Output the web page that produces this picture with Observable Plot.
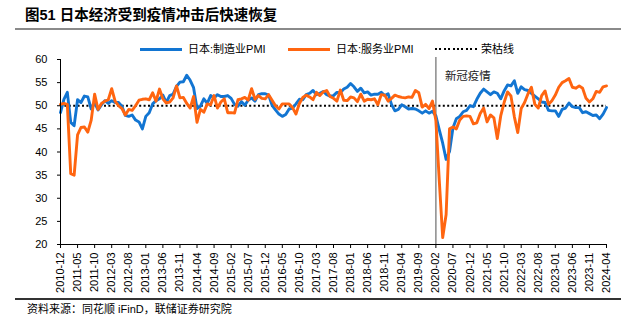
<!DOCTYPE html>
<html>
<head>
<meta charset="utf-8">
<script src="https://cdn.jsdelivr.net/npm/d3@7"></script>
<script src="https://cdn.jsdelivr.net/npm/@observablehq/plot@0.6"></script>
<style>
  html, body { margin: 0; padding: 0; background: #fff; }
  #root { position: relative; width: 631px; height: 326px; overflow: hidden; background: #fff;
          font-family: "Liberation Sans", Arial, "Noto Sans CJK SC", sans-serif; }
  .abs { position: absolute; white-space: nowrap; }
  #title { left: 25px; top: 7px; font-size: 14.5px; font-weight: bold; color: #000; line-height: 16px; }
  #rule-top { left: 15px; top: 28px; width: 606px; height: 2px; background: #8a8a8a; }
  .lg-text { font-size: 11px; line-height: 14px; color: #000; top: 42px; }
  .sw { top: 48px; height: 3px; width: 42px; }
  #plot { left: 0; top: 54px; }
  #rule-bot { left: 15px; top: 298px; width: 606px; height: 1.5px; background: #333; }
  #source { left: 27px; top: 302px; font-size: 11px; line-height: 14px; color: #000; }
</style>
</head>
<body>
<div id="root">
  <div id="title" class="abs">图51 日本经济受到疫情冲击后快速恢复</div>
  <div id="rule-top" class="abs"></div>
  <div id="legend"></div>
  <div id="plot" class="abs"></div>
  <div id="rule-bot" class="abs"></div>
  <div id="source" class="abs">资料来源：同花顺 iFinD，联储证券研究院</div>
</div>
<script>
// ---------- DATA ----------
const seriesNames = ["日本:制造业PMI", "日本:服务业PMI", "荣枯线"];
const seriesColors = ["#1275d2", "#ff6510", "#000000"];
const startMonth = "2010-12";
const endMonth = "2024-04";
const tickLabels = ["2010-12","2011-05","2011-10","2012-03","2012-08","2013-01","2013-06","2013-11",
  "2014-04","2014-09","2015-02","2015-07","2015-12","2016-05","2016-10","2017-03","2017-08",
  "2018-01","2018-06","2018-11","2019-04","2019-09","2020-02","2020-07","2020-12","2021-05",
  "2021-10","2022-03","2022-08","2023-01","2023-06","2023-11","2024-04"];
const yTicks = [20, 25, 30, 35, 40, 45, 50, 55, 60];
const threshold = 50;
const covidMonth = "2020-02";
const covidLabel = "新冠疫情";

// Japan manufacturing PMI, 2010-12 .. 2024-04
const mfgPMI = [48.5,
  51.4,52.9,46.4,45.7,51.3,50.7,52.1,51.9,49.3,50.6,49.1,50.2,
  51.1,50.5,51.1,50.7,50.7,49.9,47.9,47.7,48.0,46.9,46.5,45.0,
  47.7,48.5,50.4,51.1,51.5,52.3,50.7,52.2,52.5,54.2,55.1,55.2,
  56.6,55.5,53.9,49.4,49.9,51.5,50.5,52.2,51.7,52.4,52.0,52.0,
  52.2,51.6,50.3,49.9,50.9,50.1,51.2,51.7,51.0,52.4,52.6,52.6,
  52.3,50.1,49.1,48.2,47.7,48.1,49.3,49.5,50.4,51.4,51.3,52.4,
  52.7,53.3,52.4,52.7,53.1,52.4,52.1,52.2,52.9,52.8,53.6,54.0,
  54.8,54.1,53.1,53.8,52.8,53.0,52.3,52.5,52.5,52.9,52.2,52.6,
  50.3,48.9,49.2,50.2,49.8,49.3,49.4,49.3,48.9,48.4,48.9,48.4,
  48.8,47.8,44.8,41.9,38.4,40.1,45.2,47.2,47.7,48.7,49.0,50.0,
  49.8,51.4,52.7,53.6,53.0,52.4,53.0,52.7,51.5,53.2,54.5,54.3,
  55.4,52.7,54.1,53.5,53.3,52.7,52.1,51.5,50.8,50.7,49.0,48.9,
  48.9,47.7,49.2,49.5,50.6,49.8,49.6,49.6,48.5,48.7,48.3,47.9,
  48.0,47.2,48.2,49.6];

// Japan services PMI, 2010-12 .. 2024-04
const svcPMI = [50.3,
  50.5,50.3,35.3,35.0,43.7,45.3,45.4,44.3,46.9,52.5,49.2,50.5,
  51.0,51.3,53.7,51.0,50.0,49.4,48.0,49.2,49.0,50.0,51.2,51.4,
  51.5,51.3,52.8,51.0,53.6,51.5,50.6,50.8,51.7,54.3,51.7,51.8,
  50.5,49.5,52.0,46.4,49.2,48.6,50.4,50.2,52.2,49.5,50.8,51.5,
  48.5,48.5,48.4,51.3,51.5,51.8,51.2,53.7,51.4,52.2,51.6,51.5,
  52.4,51.2,50.0,49.3,50.4,50.4,50.4,49.6,48.2,50.5,51.8,52.3,
  51.9,51.3,52.9,52.2,53.0,53.3,52.0,51.6,51.0,53.4,51.2,51.1,
  51.9,51.7,50.9,52.5,51.0,51.4,51.3,51.5,50.2,52.4,52.3,51.0,
  51.6,52.3,52.0,51.8,51.7,51.9,51.8,53.3,52.8,49.7,50.3,49.4,
  51.0,46.8,33.8,21.5,26.5,45.0,45.4,45.0,46.9,47.7,47.8,47.7,
  46.1,46.3,48.3,49.5,46.5,48.0,47.4,42.9,47.8,50.7,53.0,52.1,
  47.6,44.2,49.4,50.7,52.6,54.0,50.3,49.5,52.2,53.2,50.3,51.1,
  52.3,54.0,55.0,55.4,55.9,54.0,53.8,54.3,53.8,51.6,50.8,51.5,
  53.1,52.9,54.1,54.3];

// ---------- BUILD ----------
const fmt = d3.utcFormat("%Y-%m");
const parse = d3.utcParse("%Y-%m");
const months = d3.utcMonth.range(parse(startMonth), d3.utcMonth.offset(parse(endMonth), 1)).map(fmt);
const table = months.map((m, i) => ({month: m, mfg: mfgPMI[i], svc: svcPMI[i]}));

const chart = Plot.plot({
  width: 631,
  height: 246,
  marginLeft: 60,
  marginRight: 25,
  marginTop: 5,
  marginBottom: 56,
  style: {fontFamily: '"Liberation Sans", Arial, "Noto Sans CJK SC", sans-serif', fontSize: "11px", color: "#000", background: "transparent"},
  x: {type: "point", domain: months, padding: 0},
  y: {domain: [20, 60]},
  marks: [
    Plot.ruleY([threshold], {stroke: seriesColors[2], strokeWidth: 2, strokeDasharray: "2,2.4"}),
    Plot.ruleX([covidMonth], {stroke: "#8a8a8a", strokeWidth: 1.5, insetTop: -2}),
    Plot.line(table, {x: "month", y: "mfg", stroke: seriesColors[0], strokeWidth: 2.9}),
    Plot.line(table, {x: "month", y: "svc", stroke: seriesColors[1], strokeWidth: 2.9}),
    Plot.axisY({ticks: yTicks, tickSize: 3, tickPadding: 10, fontSize: 11, label: null}),
    Plot.axisX({ticks: tickLabels, tickSize: 4, tickPadding: 4, tickRotate: -90, fontSize: 11, label: null}),
    Plot.ruleX([months[0]], {stroke: "#000", strokeWidth: 1}),
    Plot.ruleY([20], {stroke: "#000", strokeWidth: 1}),
    Plot.text([{month: covidMonth, label: covidLabel}], {
      x: "month", text: "label", frameAnchor: "top", textAnchor: "start",
      dx: 9, dy: 12, fontSize: 11.5, fontFamily: '"Noto Sans CJK SC", sans-serif', fill: "#222"
    })
  ]
});
document.getElementById("plot").appendChild(chart);

// ---------- LEGEND ----------
const legend = document.getElementById("legend");
const items = [
  {sw: 140, tx: 188, dotted: false},
  {sw: 288, tx: 336, dotted: false},
  {sw: 435, tx: 481, dotted: true}
];
items.forEach((it, i) => {
  const s = document.createElement("div");
  s.className = "abs sw";
  s.style.left = it.sw + "px";
  if (it.dotted) {
    s.style.height = "2px";
    s.style.top = "48px";
    s.style.background = `repeating-linear-gradient(to right, ${seriesColors[i]} 0 2px, transparent 2px 4.4px)`;
  } else {
    s.style.background = seriesColors[i];
  }
  legend.appendChild(s);
  const t = document.createElement("div");
  t.className = "abs lg-text";
  t.style.left = it.tx + "px";
  t.textContent = seriesNames[i];
  legend.appendChild(t);
});
</script>
</body>
</html>
